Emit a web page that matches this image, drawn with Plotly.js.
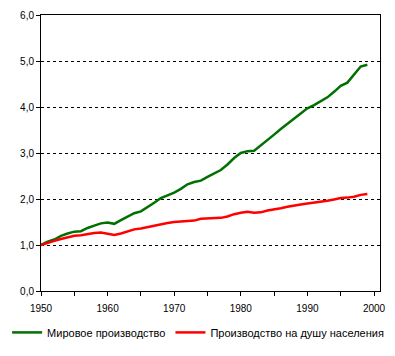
<!DOCTYPE html>
<html>
<head>
<meta charset="utf-8">
<script src="https://cdn.plot.ly/plotly-3.0.1.min.js"></script>
<style>html,body{margin:0;padding:0;background:#fff;}#chart{width:395px;height:356px;}</style>
</head>
<body>
<div id="chart"></div>
<script>
const years = [1950,1951,1952,1953,1954,1955,1956,1957,1958,1959,1960,1961,1962,1963,1964,1965,1966,1967,1968,1969,1970,1971,1972,1973,1974,1975,1976,1977,1978,1979,1980,1981,1982,1983,1984,1985,1986,1987,1988,1989,1990,1991,1992,1993,1994,1995,1996,1997,1998,1999];
const worldProduction = [1.00,1.07,1.12,1.20,1.25,1.29,1.30,1.37,1.42,1.47,1.49,1.46,1.54,1.61,1.69,1.73,1.82,1.92,2.02,2.08,2.14,2.22,2.32,2.37,2.40,2.48,2.55,2.63,2.75,2.89,3.00,3.04,3.05,3.16,3.29,3.40,3.52,3.63,3.76,3.86,3.97,4.04,4.13,4.21,4.33,4.46,4.53,4.70,4.88,4.92];
const perCapita = [1.00,1.05,1.09,1.13,1.17,1.20,1.21,1.24,1.26,1.27,1.25,1.22,1.25,1.30,1.34,1.36,1.39,1.43,1.46,1.48,1.50,1.51,1.53,1.53,1.57,1.58,1.59,1.59,1.62,1.67,1.70,1.72,1.70,1.71,1.75,1.77,1.80,1.83,1.86,1.88,1.90,1.92,1.93,1.96,1.99,2.02,2.03,2.05,2.09,2.11];
const seriesNames = ["Мировое производство", "Производство на душу населения"];
const xTicks = [1950,1960,1970,1980,1990,2000];
const yTicks = [0,1,2,3,4,5,6];

const traces = [
  {x: years, y: worldProduction, name: seriesNames[0], type: 'scatter', mode: 'lines',
   line: {color: '#007000', width: 2.5}},
  {x: years, y: perCapita, name: seriesNames[1], type: 'scatter', mode: 'lines',
   line: {color: '#ff0000', width: 2.5}}
];

const layout = {
  width: 395, height: 356,
  margin: {l: 41, r: 15, t: 15, b: 65, autoexpand: false},
  paper_bgcolor: '#fff', plot_bgcolor: '#fff',
  separators: ',.',
  font: {family: '"Liberation Sans", Arial, sans-serif', size: 10, color: '#000'},
  showlegend: true,
  legend: {orientation: 'h', x: -0.1, xanchor: 'left', y: -0.15, yanchor: 'middle',
           font: {size: 11, color: '#000'}, itemwidth: 30, tracegroupgap: 0},
  xaxis: {range: [1950, 2000.9], tickvals: xTicks, ticks: 'outside', ticklen: 4, tickcolor: '#000',
          ticklabelstandoff: 4,
          showline: true, linecolor: '#000', linewidth: 1, mirror: true, showgrid: false, zeroline: false,
          minor: {dtick: 5, tick0: 1950, ticks: 'outside', ticklen: 4, tickcolor: '#000', showgrid: false},
          fixedrange: true},
  yaxis: {range: [0, 6], tickvals: yTicks, tickformat: '.1f', ticks: 'outside', ticklen: 4, tickcolor: '#000',
          showline: true, linecolor: '#000', linewidth: 1, mirror: true,
          showgrid: true, gridcolor: '#000', gridwidth: 1, griddash: '3px,3px', zeroline: false,
          fixedrange: true}
};

Plotly.newPlot('chart', traces, layout, {staticPlot: true, displayModeBar: false});
</script>
</body>
</html>
